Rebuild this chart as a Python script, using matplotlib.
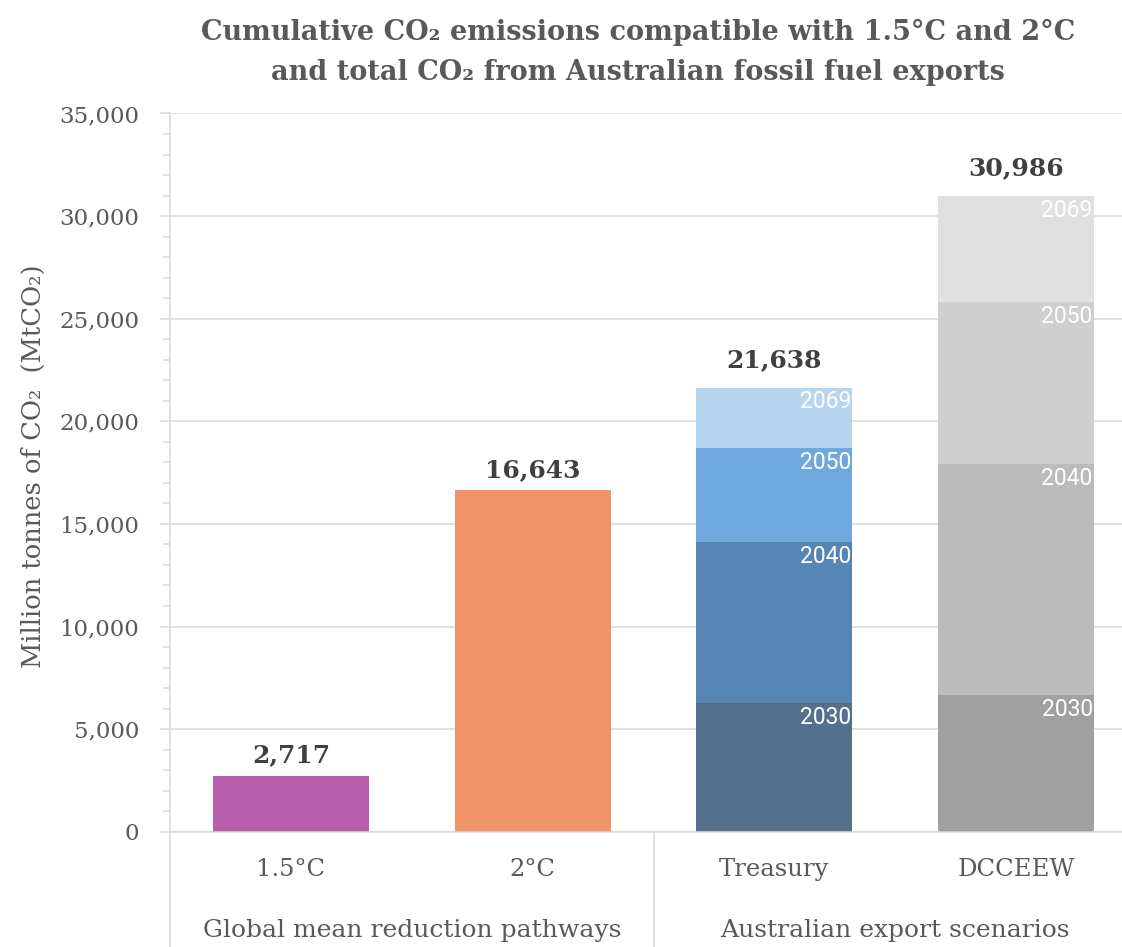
import matplotlib
matplotlib.use("Agg")
import matplotlib.pyplot as plt
import matplotlib.transforms as mtransforms
from matplotlib.lines import Line2D
from matplotlib.ticker import MultipleLocator, FuncFormatter
import numpy as np

# ---- data -------------------------------------------------------------
categories = ["1.5°C", "2°C", "Treasury", "DCCEEW"]
groups = ["Global mean reduction pathways", "Australian export scenarios"]
group_spans = [(-0.5, 1.5), (1.5, 3.5)]

budget_values = [2717, 16643]          # 1.5°C and 2°C carbon budgets
budget_colors = ["#B75FAC", "#EF9466"]

years = ["2030", "2040", "2050", "2069"]
treasury_cumulative = [6250, 14130, 18680, 21638]
dcceew_cumulative = [6660, 17900, 25820, 30986]
treasury_colors = ["#54708A", "#5585B3", "#6FA8DF", "#B8D5EF"]
dcceew_colors = ["#A0A0A0", "#BBBBBB", "#CFCFCF", "#E0E0E0"]

# ---- style ------------------------------------------------------------
GRID = "#D9D9D9"
TEXT = "#595959"
LABEL = "#404040"
SERIF = ["DejaVu Serif", "DejaVu Sans"]

W, H = 1122, 947
fig = plt.figure(figsize=(W / 100, H / 100), dpi=100)
ax = fig.add_axes([170 / W, (H - 831.7) / H, 967 / W, 718.2 / H])

ax.set_xlim(-0.5, 3.5)
ax.set_ylim(0, 35000)
ax.yaxis.set_major_locator(MultipleLocator(5000))
ax.yaxis.set_minor_locator(MultipleLocator(1000))
ax.yaxis.set_major_formatter(FuncFormatter(lambda v, p: f"{int(v):,}"))
ax.grid(axis="y", which="major", color=GRID, linewidth=1.1, zorder=0)
ax.set_axisbelow(True)

for s in ["top", "right"]:
    ax.spines[s].set_visible(False)
for s in ["left", "bottom"]:
    ax.spines[s].set_color(GRID)
    ax.spines[s].set_linewidth(1.1)

ax.tick_params(axis="y", which="major", length=7.2, width=1.1, color=GRID,
               labelsize=16.5, labelcolor=TEXT, pad=15)
ax.tick_params(axis="y", which="minor", length=5, width=1.1, color=GRID)
for lbl in ax.get_yticklabels():
    lbl.set_family(SERIF)

bw = 0.645
x = np.arange(len(categories))

# single-value budget bars
for i, (v, c) in enumerate(zip(budget_values, budget_colors)):
    ax.bar(x[i], v, width=bw, color=c, zorder=2)
    ax.annotate(f"{v:,}", (x[i], v), xytext=(0, 6), textcoords="offset points",
                ha="center", va="bottom", fontsize=18, fontweight="bold",
                color=LABEL, family=SERIF)

# stacked export-scenario bars
for xi, cum, cols in [(x[2], treasury_cumulative, treasury_colors),
                      (x[3], dcceew_cumulative, dcceew_colors)]:
    bottoms = [0] + cum[:-1]
    for yr, b, top, c in zip(years, bottoms, cum, cols):
        ax.bar(xi, top - b, bottom=b, width=bw, color=c, zorder=2)
        ax.annotate(yr, (xi + bw / 2, top), xytext=(-1, -2),
                    textcoords="offset points", ha="right", va="top",
                    fontsize=16.5, color="white",
                    family=["Roboto", "DejaVu Sans"], zorder=3)
    ax.annotate(f"{cum[-1]:,}", (xi, cum[-1]), xytext=(0, 11),
                textcoords="offset points", ha="center", va="bottom",
                fontsize=18, fontweight="bold", color=LABEL, family=SERIF)

# two-level category axis
ax.set_xticks(x)
ax.set_xticklabels(categories)
ax.tick_params(axis="x", length=0, pad=19, labelsize=17.5, labelcolor=TEXT)
for lbl in ax.get_xticklabels():
    lbl.set_family(SERIF)

trans = mtransforms.blended_transform_factory(ax.transData, ax.transAxes)
for xs in [-0.5, 1.5, 3.5]:
    ax.add_line(Line2D([xs, xs], [0, -0.17], transform=trans, color=GRID,
                       linewidth=1.1, clip_on=False))
for g, (a, b) in zip(groups, group_spans):
    ax.text((a + b) / 2, -0.137, g, transform=trans, ha="center", va="center",
            fontsize=18, color=TEXT, family=SERIF)

# axis title and chart title
fig.text(33 / W, 1 - 466 / H, "Million tonnes of CO₂  (MtCO₂)", rotation=90,
         ha="center", va="center", fontsize=18.5, color=TEXT, family=SERIF)
fig.text(638 / W, 1 - 32 / H,
         "Cumulative CO₂ emissions compatible with 1.5°C and 2°C",
         ha="center", va="center", fontsize=19.5, fontweight="bold",
         color=TEXT, family=SERIF)
fig.text(638 / W, 1 - 72 / H,
         "and total CO₂ from Australian fossil fuel exports",
         ha="center", va="center", fontsize=19.5, fontweight="bold",
         color=TEXT, family=SERIF)

fig.savefig("out.png", dpi=100)
